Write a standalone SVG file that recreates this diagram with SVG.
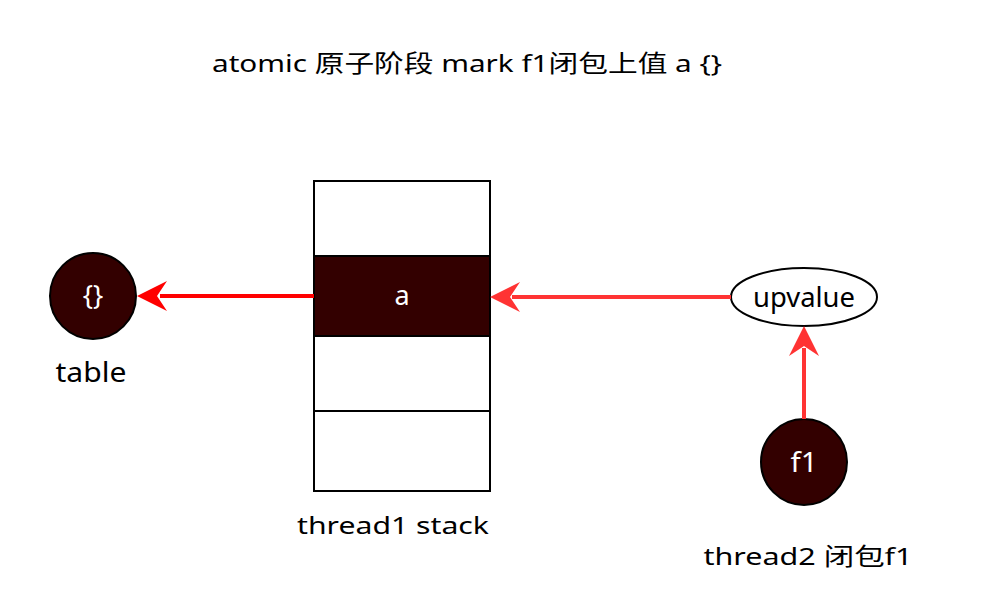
<svg xmlns="http://www.w3.org/2000/svg" width="982" height="613" viewBox="0 0 982 613">
<style>
text{font-family:"Noto Sans","Noto Sans CJK SC",sans-serif;font-size:24px;fill:#000}
.w{fill:#fff;text-anchor:middle}
.c{text-anchor:middle}
.big{font-size:27px}
.dark{fill:#330000;stroke:#000;stroke-width:2}
.cell{fill:#fff;stroke:#000;stroke-width:2}
.edge{fill:none;stroke-width:4}
</style>
<rect width="982" height="613" fill="#fff"/>
<text x="467" y="72" class="c" textLength="510" lengthAdjust="spacingAndGlyphs">atomic 原子阶段 mark f1闭包上值 a {}</text>
<g id="stack">
<rect class="cell" x="314" y="181" width="176" height="75"/>
<rect class="dark" x="314" y="256" width="176" height="80"/>
<rect class="cell" x="314" y="336" width="176" height="75"/>
<rect class="cell" x="314" y="411" width="176" height="80"/>
<text class="w big" x="402" y="305">a</text>
<text class="c" x="393" y="534" textLength="192" lengthAdjust="spacingAndGlyphs">thread1 stack</text>
</g>
<g id="table">
<circle class="dark" cx="93" cy="296" r="43"/>
<text class="w big" x="93" y="305">{}</text>
<text class="c big" x="91" y="382" textLength="71" lengthAdjust="spacingAndGlyphs">table</text>
</g>
<g id="upvalue">
<ellipse cx="804" cy="297" rx="73" ry="29" fill="#fff" stroke="#000" stroke-width="2"/>
<text class="c big" x="804" y="307" textLength="102" lengthAdjust="spacingAndGlyphs">upvalue</text>
</g>
<g id="f1">
<circle class="dark" cx="804" cy="462" r="43"/>
<text class="w big" x="804" y="472" textLength="27" lengthAdjust="spacingAndGlyphs">f1</text>
<text class="c" x="808" y="565" textLength="209" lengthAdjust="spacingAndGlyphs">thread2 闭包f1</text>
</g>
<g id="connectors">
<path class="edge" stroke="#ff0000" d="M314 296 H160"/>
<path fill="#ff0000" d="M137 296 L167 281 L157 296 L167 311 Z"/>
<path class="edge" stroke="#ff3333" d="M731 297 H512"/>
<path fill="#ff3333" d="M490 297 L520 282 L510 297 L520 312 Z"/>
<path class="edge" stroke="#ff3333" d="M804 419 V348"/>
<path fill="#ff3333" d="M804 326 L819 356 L804 346 L789 356 Z"/>
</g>
</svg>
